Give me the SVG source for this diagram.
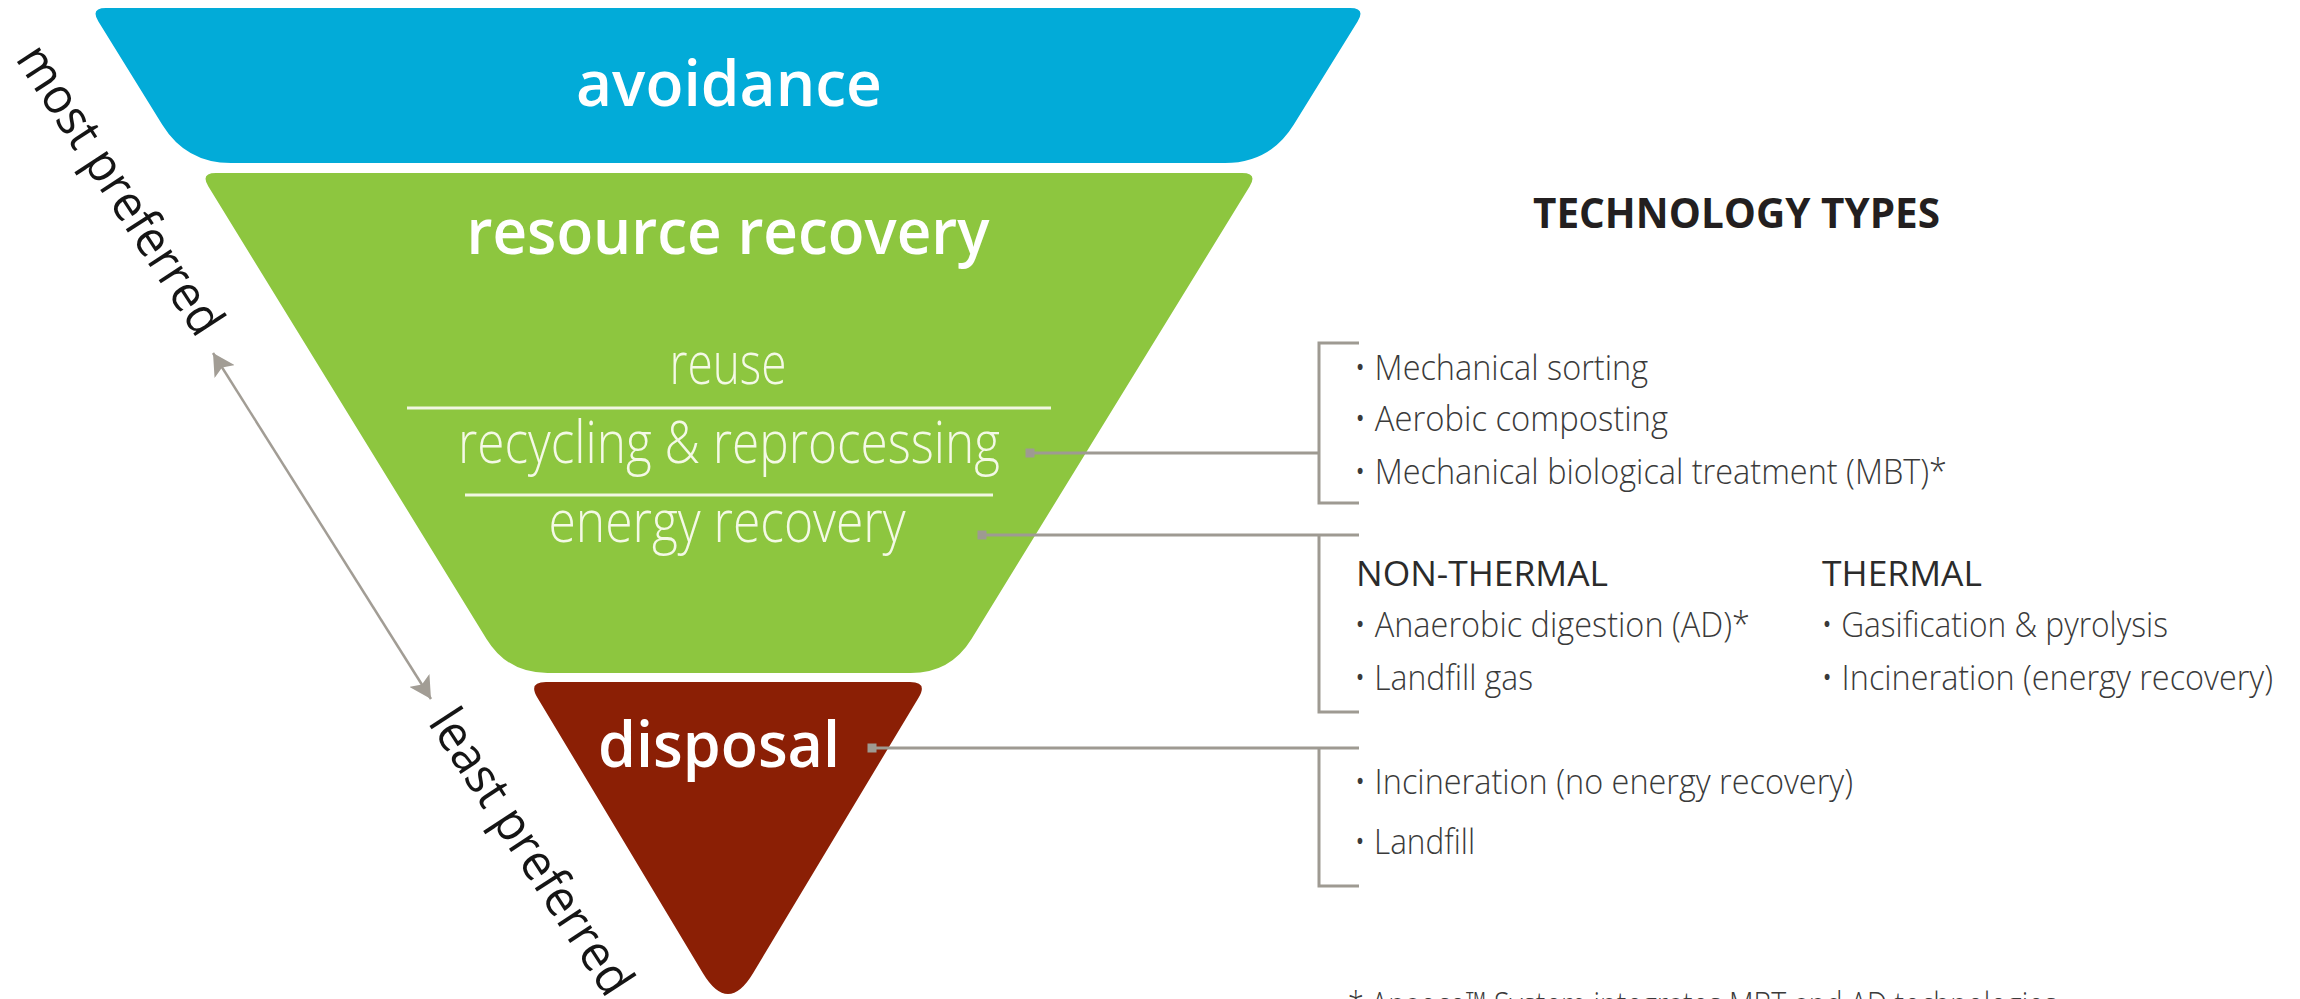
<svg xmlns="http://www.w3.org/2000/svg" width="2300" height="999" viewBox="0 0 2300 999">
<style>
text{font-family:'Open Sans','Noto Sans','Liberation Sans',sans-serif}
.head{font-weight:600;fill:#ffffff;font-size:64px;text-anchor:middle}
.sub{font-weight:300;fill:#f4f9e6;font-size:58px;text-anchor:middle}
.item{font-weight:300;fill:#3a3a3a;font-size:35px}
.cat{font-weight:400;fill:#2b2b2b;font-size:34px}
.title{font-weight:700;fill:#231f20;font-size:41px}
.side{font-weight:500;fill:#151515;font-size:50px;text-anchor:middle}
.conn{stroke:#9e9a92;stroke-width:3;fill:none}
.dot{fill:#9e9a92}
.sep{stroke:#f1f7e2;stroke-width:3}
.arrow{stroke:#a29d95;stroke-width:2.5;fill:none}
</style>
<defs>
<marker id="ah" viewBox="0 0 22 24" refX="22" refY="12" markerWidth="22" markerHeight="24" markerUnits="userSpaceOnUse" orient="auto-start-reverse">
<path d="M0,0 L22,12 L0,24 L5,12 Z" fill="#a29d95"/>
</marker>
</defs>
<rect width="2300" height="999" fill="#ffffff"/>

<g id="avoidance">
<path d="M106,8 H1350 Q1366,8 1357.6,21.6 L1293.7,124.7 Q1270,163 1225,163 H231 Q186,163 162.3,124.7 L98.4,21.6 Q90,8 106,8 Z" fill="#02abd8"/>
<text class="head" x="729" y="106" textLength="306" lengthAdjust="spacingAndGlyphs">avoidance</text>
</g>

<g id="resource-recovery">
<path d="M216,173 H1242 Q1258,173 1249.6,186.6 L971.5,638.9 Q950.5,673 910.5,673 H547.5 Q507.5,673 486.5,638.9 L208.4,186.6 Q200,173 216,173 Z" fill="#8dc63f"/>
<text class="head" x="728" y="254" textLength="523" lengthAdjust="spacingAndGlyphs">resource recovery</text>
<text class="sub" x="728" y="384" textLength="117" lengthAdjust="spacingAndGlyphs">reuse</text>
<line class="sep" x1="407" y1="408" x2="1051" y2="408"/>
<text class="sub" x="729" y="463" textLength="542" lengthAdjust="spacingAndGlyphs">recycling &amp; reprocessing</text>
<line class="sep" x1="465" y1="495" x2="993" y2="495"/>
<text class="sub" x="727" y="542" textLength="357" lengthAdjust="spacingAndGlyphs">energy recovery</text>
</g>

<g id="disposal">
<path d="M546,682 H910 Q928,682 918.7,697.4 L753.2,973 Q728,1015 702.8,973 L537.3,697.4 Q528,682 546,682 Z" fill="#8b1f05"/>
<text class="head" x="719" y="767" textLength="242" lengthAdjust="spacingAndGlyphs">disposal</text>
</g>

<g id="preference-scale">
<text class="side" transform="translate(106,199) rotate(57)" textLength="335" lengthAdjust="spacingAndGlyphs">most preferred</text>
<text class="side" transform="translate(517,861) rotate(57)" textLength="330" lengthAdjust="spacingAndGlyphs">least preferred</text>
<line class="arrow" x1="213" y1="353" x2="431" y2="699" marker-start="url(#ah)" marker-end="url(#ah)"/>
</g>

<g id="connectors">
<rect class="dot" x="1025.5" y="448.5" width="9" height="9"/>
<line class="conn" x1="1030" y1="453" x2="1319" y2="453"/>
<path class="conn" d="M1359,343 H1319 V503 H1359"/>
<rect class="dot" x="977.5" y="530.5" width="9" height="9"/>
<line class="conn" x1="982" y1="535" x2="1359" y2="535"/>
<path class="conn" d="M1319,535 V712 H1359"/>
<rect class="dot" x="867.5" y="743.5" width="9" height="9"/>
<line class="conn" x1="872" y1="748" x2="1359" y2="748"/>
<path class="conn" d="M1319,748 V886 H1359"/>
</g>

<g id="technology-types">
<text class="title" x="1533" y="228" textLength="407" lengthAdjust="spacingAndGlyphs">TECHNOLOGY TYPES</text>
</g>

<g id="recycling-technologies">
<text class="item" x="1354" y="380" textLength="294" lengthAdjust="spacingAndGlyphs">• Mechanical sorting</text>
<text class="item" x="1354" y="431" textLength="314" lengthAdjust="spacingAndGlyphs">• Aerobic composting</text>
<text class="item" x="1354" y="484" textLength="593" lengthAdjust="spacingAndGlyphs">• Mechanical biological treatment (MBT)*</text>
</g>

<g id="energy-technologies">
<text class="cat" x="1356" y="586" textLength="252" lengthAdjust="spacingAndGlyphs">NON-THERMAL</text>
<text class="item" x="1354" y="637" textLength="396" lengthAdjust="spacingAndGlyphs">• Anaerobic digestion (AD)*</text>
<text class="item" x="1354" y="690" textLength="179" lengthAdjust="spacingAndGlyphs">• Landfill gas</text>
<text class="cat" x="1822" y="586" textLength="160" lengthAdjust="spacingAndGlyphs">THERMAL</text>
<text class="item" x="1821" y="637" textLength="347" lengthAdjust="spacingAndGlyphs">• Gasification &amp; pyrolysis</text>
<text class="item" x="1821" y="690" textLength="452" lengthAdjust="spacingAndGlyphs">• Incineration (energy recovery)</text>
</g>

<g id="disposal-technologies">
<text class="item" x="1354" y="794" textLength="499" lengthAdjust="spacingAndGlyphs">• Incineration (no energy recovery)</text>
<text class="item" x="1354" y="854" textLength="121" lengthAdjust="spacingAndGlyphs">• Landfill</text>
</g>

<g id="footnote">
<text class="item" x="1348" y="1017" textLength="709" lengthAdjust="spacingAndGlyphs">* Anaeco™ System integrates MBT and AD technologies</text>
</g>
</svg>
